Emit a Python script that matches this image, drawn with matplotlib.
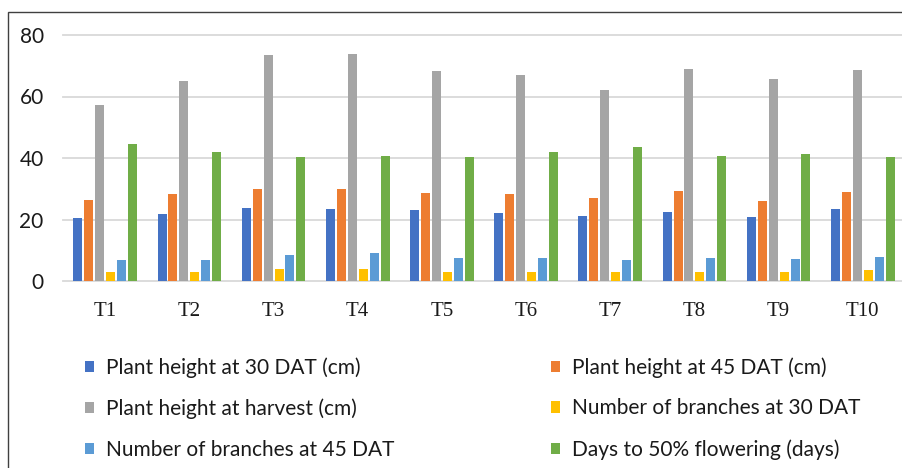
import numpy as np
import matplotlib
matplotlib.use('Agg')
import matplotlib.pyplot as plt
from matplotlib.patches import Rectangle

categories = ['T1', 'T2', 'T3', 'T4', 'T5', 'T6', 'T7', 'T8', 'T9', 'T10']

height_30 = [20.5, 21.8, 23.7, 23.4, 23.0, 22.1, 21.2, 22.5, 20.8, 23.3]
height_45 = [26.2, 28.3, 29.8, 29.8, 28.6, 28.3, 27.0, 29.4, 26.1, 28.9]
height_harvest = [57.3, 65.0, 73.5, 73.9, 68.2, 66.9, 62.1, 68.9, 65.7, 68.5]
branches_30 = [3.0, 3.0, 4.0, 4.0, 3.0, 3.0, 3.0, 3.0, 3.0, 3.5]
branches_45 = [6.7, 6.7, 8.3, 9.2, 7.6, 7.6, 6.7, 7.6, 7.2, 7.9]
days_flowering = [44.4, 42.0, 40.3, 40.8, 40.2, 41.8, 43.6, 40.8, 41.2, 40.2]

series_names = ['Plant height at 30 DAT (cm)', 'Plant height at 45 DAT (cm)',
                'Plant height at harvest (cm)', 'Number of branches at 30 DAT',
                'Number of branches at 45 DAT', 'Days to 50% flowering (days)']
series = [height_30, height_45, height_harvest, branches_30, branches_45, days_flowering]
colors = ['#4472C4', '#ED7D31', '#A5A5A5', '#FFC000', '#5B9BD5', '#70AD47']

W, H = 903, 468
fig = plt.figure(figsize=(W / 100, H / 100), dpi=100)

# axes placed in pixel terms
left, right, bottom, top = 63.1, 904.9, 281, 35
ax = fig.add_axes([left / W, 1 - bottom / H, (right - left) / W, (bottom - top) / H])

x = np.arange(len(categories))
slot = 0.130
bar_w = 0.107
bars = []
for i, (vals, c) in enumerate(zip(series, colors)):
    off = (i - 2.5) * slot
    b = ax.bar(x + off, vals, width=bar_w, color=c, zorder=3, label=series_names[i])
    bars.append(b)

ax.set_xlim(-0.5, len(categories) - 0.5)
ax.set_ylim(0, 80)
ax.set_yticks([0, 20, 40, 60, 80])
ax.grid(axis='y', color='#D9D9D9', linewidth=1.3, zorder=0)
for gl in ax.get_ygridlines():
    gl.set_clip_on(False)
for s in ax.spines.values():
    s.set_visible(False)
ax.tick_params(axis='both', length=0)
ax.tick_params(axis='y', pad=14, labelsize=15, labelcolor='#1a1a1a')
ax.set_yticklabels([0, 20, 40, 60, 80], family='Lato')
ax.set_xticks(x)
ax.set_xticklabels(categories, family='Liberation Serif', fontsize=15, color='#1a1a1a')
ax.tick_params(axis='x', pad=15)

# legend in two columns, entries filled row-wise
leg_kw = dict(frameon=False, handlelength=0.45, handleheight=0.45,
              handletextpad=0.55, labelspacing=1.0, borderpad=0, borderaxespad=0,
              prop={'family': 'Lato', 'size': 15}, loc='upper left')
h1 = [bars[0], bars[2], bars[4]]
h2 = [bars[1], bars[3], bars[5]]
leg1 = fig.legend(h1, [series_names[0], series_names[2], series_names[4]],
                  bbox_to_anchor=(85 / W, 1 - 357 / H), **leg_kw)
leg2 = fig.legend(h2, [series_names[1], series_names[3], series_names[5]],
                  bbox_to_anchor=(551 / W, 1 - 357 / H), **leg_kw)
for leg in (leg1, leg2):
    for t in leg.get_texts():
        t.set_color('#1a1a1a')

# outer chart frame
fig.patches.append(Rectangle((8 / W, -0.2), 1.0, 1 - 12 / H + 0.2, transform=fig.transFigure,
                             fill=False, edgecolor='#404040', linewidth=1.0))

fig.savefig('out.png', dpi=100)
